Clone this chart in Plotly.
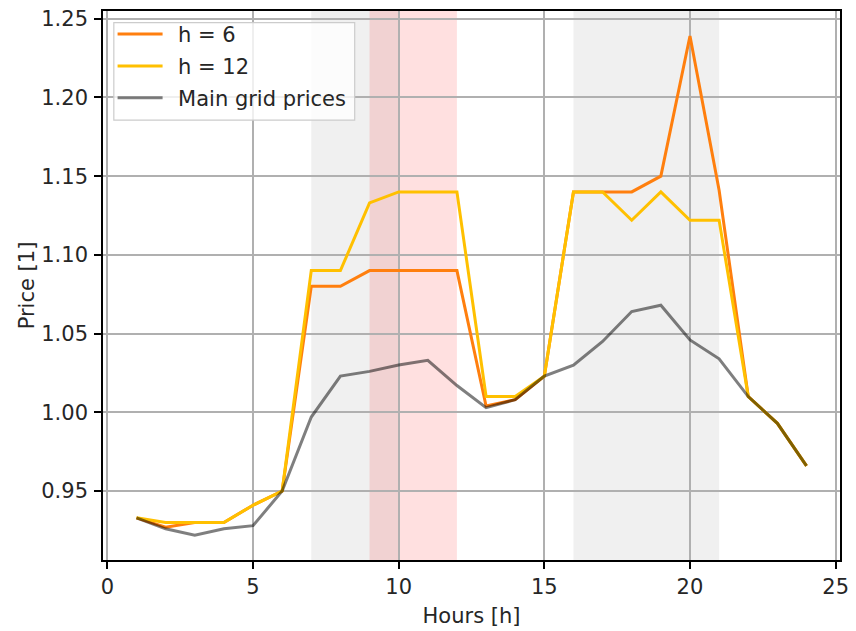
import plotly.graph_objects as go

hours = list(range(1, 25))
h6 = [0.933, 0.927, 0.930, 0.930, 0.941, 0.950, 1.080, 1.080, 1.090, 1.090, 1.090, 1.090,
      1.004, 1.008, 1.023, 1.140, 1.140, 1.140, 1.150, 1.239, 1.141, 1.010, 0.993, 0.966]
h12 = [0.933, 0.930, 0.930, 0.930, 0.941, 0.950, 1.090, 1.090, 1.133, 1.140, 1.140, 1.140,
       1.010, 1.010, 1.023, 1.140, 1.140, 1.122, 1.140, 1.122, 1.122, 1.010, 0.993, 0.966]
grid_prices = [0.933, 0.926, 0.922, 0.926, 0.928, 0.950, 0.997, 1.023, 1.026, 1.030, 1.033, 1.017,
               1.003, 1.008, 1.023, 1.030, 1.045, 1.064, 1.068, 1.046, 1.034, 1.010, 0.993, 0.966]
gray_spans = [(7, 10), (16, 21)]
red_spans = [(9, 12)]
series_names = ["h = 6", "h = 12", "Main grid prices"]
series_colors = ["#ff7f0e", "#ffc000", "rgba(0,0,0,0.5)"]

FONT = "DejaVu Sans"
FS = 21
TXT = "#262626"
LW = 3.0

fig = go.Figure()
for i, (vals, name, col) in enumerate(zip([h6, h12, grid_prices], series_names, series_colors)):
    fig.add_trace(go.Scatter(x=hours, y=vals, mode="lines", name="\u2002" + name,
                             legendgroup=f"g{i}", line=dict(color=col, width=LW)))

shapes = []
for a, b in gray_spans:
    shapes.append(dict(type="rect", xref="x", yref="paper", x0=a, x1=b, y0=0, y1=1,
                       fillcolor="rgba(128,128,128,0.12)", line=dict(width=0), layer="below"))
for a, b in red_spans:
    shapes.append(dict(type="rect", xref="x", yref="paper", x0=a, x1=b, y0=0, y1=1,
                       fillcolor="rgba(255,0,0,0.12)", line=dict(width=0), layer="below"))
# legend frame (matplotlib-style box)
shapes.append(dict(type="rect", xref="paper", yref="paper", x0=0.0147, x1=0.3415,
                   y0=0.8014, y1=0.979, fillcolor="rgba(255,255,255,0.8)",
                   line=dict(color="#cccccc", width=1.2), layer="above"))

axis_common = dict(showgrid=True, gridcolor="#b0b0b0", gridwidth=1.6,
                   showline=True, linecolor="black", linewidth=1.6, mirror=True,
                   ticks="outside", ticklen=7, tickwidth=1.6, tickcolor="black",
                   zeroline=False, tickfont=dict(family=FONT, size=FS, color=TXT))

fig.update_layout(
    width=856, height=631,
    margin=dict(l=103, r=7, t=9, b=68),
    paper_bgcolor="white", plot_bgcolor="white",
    shapes=shapes,
    font=dict(family=FONT, size=FS, color=TXT),
    xaxis=dict(range=[-0.15, 25.15], tickmode="array", tickvals=[0, 5, 10, 15, 20, 25],
               ticklabelstandoff=0,
               title=dict(text="Hours [h]", font=dict(family=FONT, size=FS, color=TXT), standoff=10),
               **axis_common),
    yaxis=dict(range=[0.9062, 1.2549], tickmode="array",
               tickvals=[0.95, 1.00, 1.05, 1.10, 1.15, 1.20, 1.25],
               tickformat=".2f", ticklabelstandoff=2,
               title=dict(text="Price [1]", font=dict(family=FONT, size=FS, color=TXT), standoff=1),
               **axis_common),
    legend=dict(x=0.013, y=0.9946, xanchor="left", yanchor="top",
                bgcolor="rgba(0,0,0,0)", borderwidth=0,
                font=dict(family=FONT, size=FS, color=TXT), tracegroupgap=1.5, itemwidth=45),
    showlegend=True,
)

fig.write_html("out.html")
